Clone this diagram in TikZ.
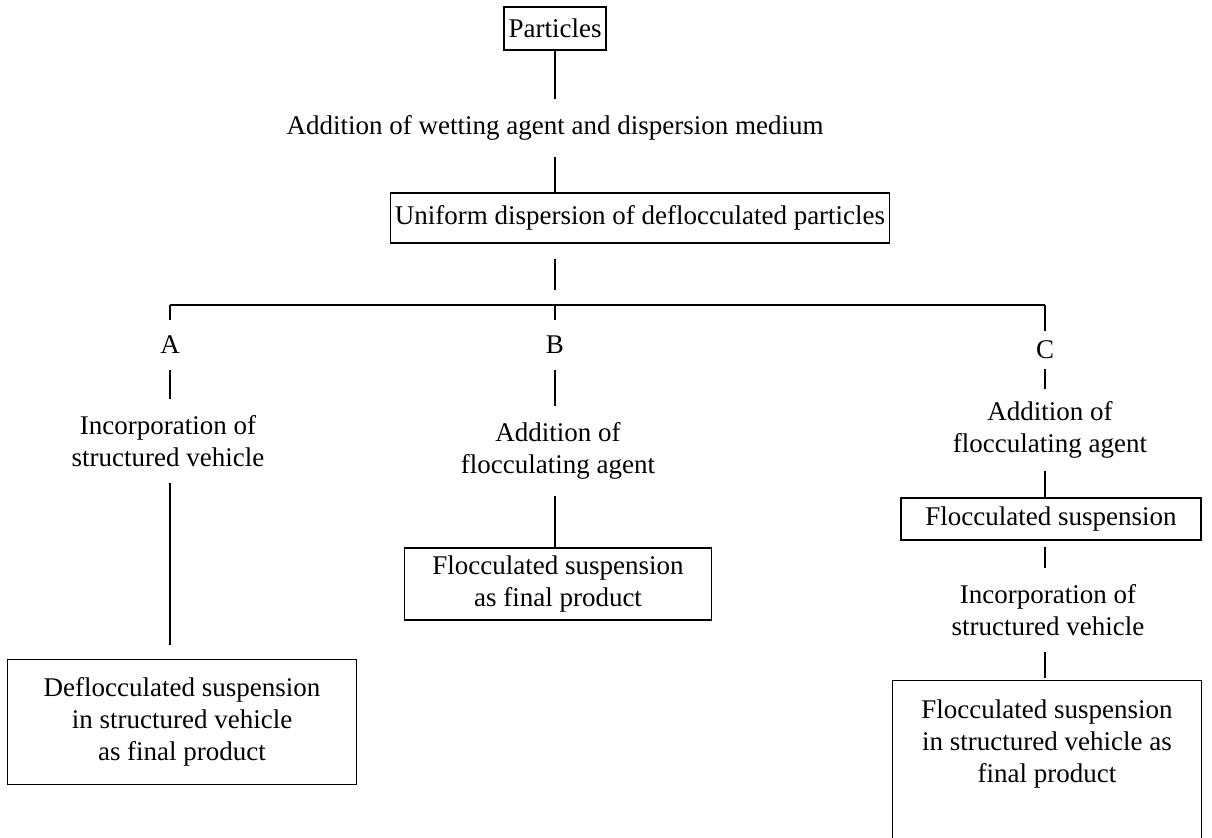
\documentclass[tikz,border=0pt]{standalone}
\usepackage{fontspec}
\setmainfont{Liberation Serif}
\usetikzlibrary{positioning}
\begin{document}
\begin{tikzpicture}[x=0.5pt,y=-0.5pt,
    every node/.style={font=\fontsize{13.5}{16}\selectfont},
    box/.style={draw,line width=0.6pt,align=center,inner sep=2pt},
    stage/.style={align=center,inner xsep=0pt,inner ysep=8pt},
    link/.style={line width=0.6pt}]
    \useasboundingbox (0,0) rectangle (1212,838);
    %% top of the chain
    \node[box,minimum width=51pt,minimum height=21.5pt] (P) at (555,28.5) {Particles};
    \node[stage] (W) at (555,128) {Addition of wetting agent and dispersion medium};
    \node[box,minimum width=235pt,minimum height=25pt] (U) at (640,218) {Uniform dispersion of deflocculated particles};
    \draw[link] (P.south) -- (W);
    \draw[link] (W) -- (U.north -| W);
    %% branching bar
    \coordinate (barA) at (170,305);
    \coordinate (barB) at (555,305);
    \coordinate (barC) at (1045,305);
    \draw[link,shorten <=7.5pt,shorten >=7.5pt] (U.south -| barB) -- (barB);
    \draw[link] (barA) -- (barC);
    \node[stage] (A) at (170,345) {A};
    \node[stage] (B) at (555,345) {B};
    \node[stage,inner ysep=5pt] (C) at (1045,350) {C};
    \draw[link] (barA) -- (A);
    \draw[link] (barB) -- (B);
    \draw[link] (barC) -- (C);
    %% branch A
    \node[stage] (Ai) at (168,441) {Incorporation of\\structured vehicle};
    \node[box,minimum width=174.5pt,minimum height=62.5pt] (Af) at (182,722) {Deflocculated suspension\\in structured vehicle\\as final product};
    \draw[link] (A) -- (A |- Ai.north);
    \draw[link,shorten >=7pt] (A |- Ai.south) -- (A |- Af.north);
    %% branch B
    \node[stage] (Ba) at (558,451) {Addition of\\flocculating agent};
    \node[box,minimum width=153.5pt,minimum height=36pt] (Bf) at (558,584) {Flocculated suspension\\as final product};
    \draw[link] (B) -- (B |- Ba.north);
    \draw[link] (B |- Ba.south) -- (B |- Bf.north);
    %% branch C
    \node[stage,inner ysep=6pt] (Ca) at (1050,430) {Addition of\\flocculating agent};
    \node[box,minimum width=150pt,minimum height=21pt] (Cs) at (1051,519) {Flocculated suspension};
    \node[stage] (Ci) at (1048,610) {Incorporation of\\structured vehicle};
    \node[box,anchor=north,minimum width=154.5pt,inner ysep=9.5pt,text depth=40pt] (Cf) at (1047,680) {Flocculated suspension\\in structured vehicle as\\final product};
    \draw[link] (C) -- (C |- Ca.north);
    \draw[link] (C |- Ca.south) -- (C |- Cs.north);
    \draw[link,shorten <=3pt] (C |- Cs.south) -- (C |- Ci.north);
    \draw[link,shorten >=1pt] (C |- Ci.south) -- (C |- Cf.north);
\end{tikzpicture}
\end{document}
